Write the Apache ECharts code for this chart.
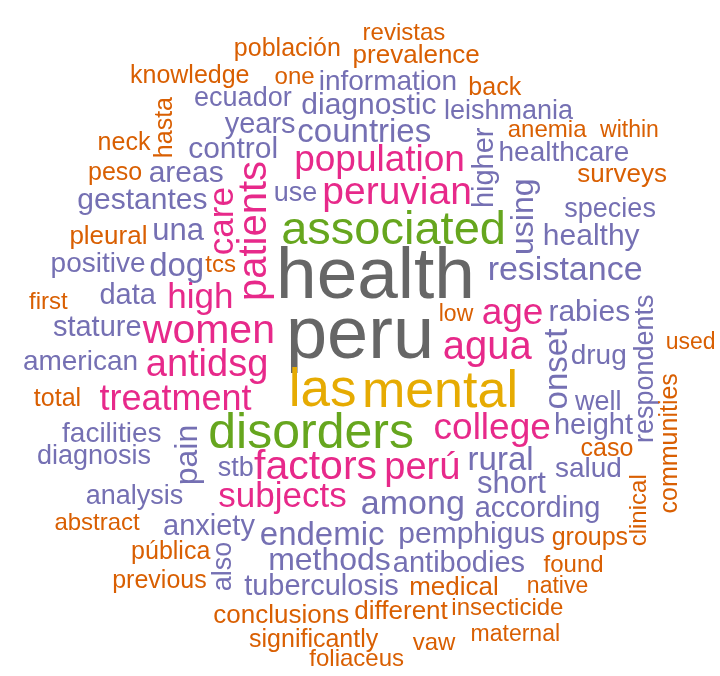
<!DOCTYPE html>
<html>
<head>
<meta charset="utf-8">
<title>word cloud</title>
<script src="https://cdn.jsdelivr.net/npm/echarts@6/dist/echarts.min.js"></script>
<style>
  html, body { margin: 0; padding: 0; background: #fff; }
  #chart { width: 720px; height: 676px; }
</style>
</head>
<body>
<div id="chart"></div>
<script>
// word frequencies (font size grows with count)
const words = [
  'peru', 'health',
  'las', 'mental',
  'disorders', 'associated',
  'women', 'factors', 'patients', 'agua', 'peruvian', 'antidsg', 'perú',
  'population', 'college', 'age', 'treatment', 'subjects', 'high', 'care',
  'among', 'resistance', 'onset', 'endemic', 'countries', 'rural', 'dog',
  'using', 'pain', 'methods', 'una', 'short',
  'pemphigus', 'rabies', 'healthy', 'diagnostic', 'control', 'gestantes', 'areas',
  'data', 'tuberculosis', 'anxiety', 'higher', 'years', 'according', 'stature',
  'antibodies', 'height',
  'drug', 'american', 'facilities', 'salud', 'positive', 'healthcare', 'information',
  'respondents', 'diagnosis', 'analysis', 'species', 'ecuador', 'also', 'leishmania',
  'use', 'well', 'stb',
  'pleural', 'conclusions', 'different', 'medical', 'surveys', 'prevalence',
  'hasta', 'población', 'back', 'knowledge', 'neck', 'peso', 'pública', 'communities',
  'groups', 'previous', 'total', 'caso', 'significantly',
  'anemia', 'abstract', 'insecticide', 'foliaceus', 'clinical', 'tcs', 'one', 'first',
  'revistas', 'vaw', 'found',
  'low', 'native', 'maternal', 'within', 'used'
]
const counts = [
  64, 63,
  43, 42,
  40, 37,
  31, 31, 30, 30, 29, 28, 28,
  27, 27, 27, 26, 25, 25, 25,
  24, 24, 23, 23, 23, 23, 23,
  22, 22, 22, 21, 21,
  20, 20, 20, 20, 20, 20, 20,
  19, 19, 19, 19, 19, 19, 19,
  19, 19,
  18, 18, 18, 18, 18, 18, 18,
  17, 17, 17, 17, 17, 17, 17,
  17, 17, 17,
  16, 16, 16, 16, 16, 16,
  15, 15, 15, 15, 15, 15, 15, 15,
  15, 15, 15, 15, 15,
  14, 14, 14, 14, 14, 14, 14, 14,
  14, 14, 14,
  13, 13, 13, 13, 13
]
// words drawn reading bottom to top
const verticalWords = [
  'patients', 'care', 'onset', 'using', 'also', 'hasta',
  'communities', 'pain', 'higher', 'respondents', 'clinical'
]
// RColorBrewer Dark2, picked by frequency bin
const dark2 = ['#1B9E77', '#D95F02', '#7570B3', '#E7298A', '#66A61E', '#E6AB02', '#A6761D', '#666666']

const W = 720, H = 676
const FONT = '"Liberation Sans", Arial, Helvetica, sans-serif'
const minSize = 10, maxSize = 74

const ctx = document.createElement('canvas').getContext('2d')

// spiral placement, biggest words first (same steps as R's wordcloud)
function layoutWords() {
  const maxCount = Math.max(...counts)
  const order = words.map((w, i) => i).sort((a, b) => counts[b] - counts[a])
  const boxes = []
  const out = []
  order.forEach((i, k) => {
    const f = counts[i] / maxCount
    const size = minSize + (maxSize - minSize) * f
    const color = dark2[Math.ceil(dark2.length * f) - 1]
    ctx.font = size + 'px ' + FONT
    let wid = ctx.measureText(words[i]).width
    let ht = size * 0.716
    if (/[gjpqy]/.test(words[i])) ht *= 1.2
    const rot = verticalWords.indexOf(words[i]) >= 0
    if (rot) { const t = ht; ht = wid; wid = t }
    let r = 0, theta = k * 2.39996, x = 0.5, y = 0.5
    while (true) {
      const bx = x * W - wid / 2, by = y * H - ht / 2
      const inside = bx > 0 && by > 0 && bx + wid < W && by + ht < H
      const hit = boxes.some(b => bx < b[0] + b[2] && bx + wid > b[0] && by < b[1] + b[3] && by + ht > b[1])
      if (inside && !hit) {
        boxes.push([bx, by, wid, ht])
        out.push({
          name: words[i],
          value: [x * W, y * H],
          label: { fontSize: size, color: color, rotate: rot ? 90 : 0 }
        })
        break
      }
      if (r > Math.SQRT1_2) break
      theta += 0.1
      r += 0.05 * 0.1 / (2 * Math.PI)
      x = 0.5 + r * Math.cos(theta)
      y = 0.5 - r * Math.sin(theta)
    }
  })
  return out
}

const chart = echarts.init(document.getElementById('chart'))
chart.setOption({
  animation: false,
  backgroundColor: '#fff',
  grid: { left: 0, right: 0, top: 0, bottom: 0 },
  xAxis: { type: 'value', min: 0, max: W, show: false },
  yAxis: { type: 'value', min: 0, max: H, inverse: true, show: false },
  series: [{
    type: 'scatter',
    symbolSize: 1,
    silent: true,
    itemStyle: { color: 'rgba(0,0,0,0)', opacity: 1 },
    label: {
      show: true,
      position: 'inside',
      formatter: '{b}',
      fontFamily: FONT,
      textBorderWidth: 0
    },
    data: layoutWords()
  }]
})
</script>
</body>
</html>
